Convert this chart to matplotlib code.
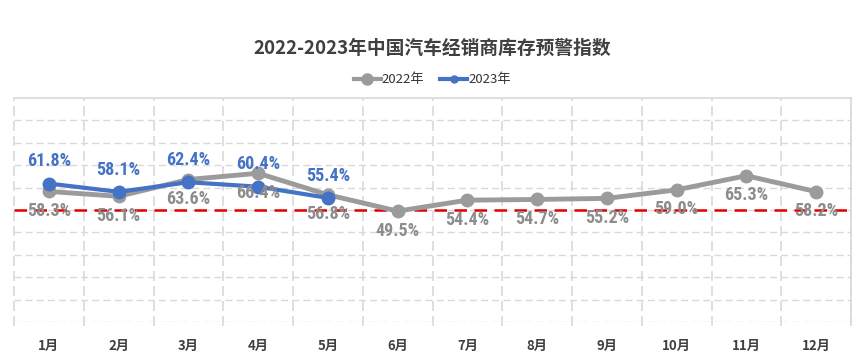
import matplotlib
matplotlib.use("Agg")
import matplotlib.pyplot as plt
from matplotlib.lines import Line2D

plt.rcParams['font.family'] = ['Noto Sans CJK SC', 'DejaVu Sans']

months = ["1月", "2月", "3月", "4月", "5月", "6月", "7月", "8月", "9月", "10月", "11月", "12月"]
values_2022 = [58.3, 56.1, 63.6, 66.4, 56.8, 49.5, 54.4, 54.7, 55.2, 59.0, 65.3, 58.2]
values_2023 = [61.8, 58.1, 62.4, 60.4, 55.4]
warning_line = 50
title = "2022-2023年中国汽车经销商库存预警指数"

W, H = 865, 360
fig = plt.figure(figsize=(W / 100, H / 100), dpi=100)
left, right, top, bottom = 14, 851, 98, 322
ax = fig.add_axes([left / W, 1 - bottom / H, (right - left) / W, (bottom - top) / H])

x22 = list(range(1, len(values_2022) + 1))
x23 = list(range(1, len(values_2023) + 1))

ax.set_xlim(0.5, 12.5)
ax.set_ylim(0, 100)

grid_c = "#D9D9D9"
for y in range(10, 100, 10):
    ax.axhline(y, color=grid_c, lw=1, ls=(0, (5, 3)), zorder=1)
for xb in [i + 0.5 for i in range(0, 13)]:
    ax.plot([xb, xb], [-1.8, 100], color=grid_c, lw=1.2, ls=(0, (6, 3)),
            clip_on=False, zorder=1)
ax.axhline(0, color=grid_c, lw=1, ls=(0, (5, 3)), zorder=1)

for s in ax.spines.values():
    s.set_visible(False)
for side in ('top', 'right'):
    ax.spines[side].set_visible(True)
    ax.spines[side].set_color(grid_c)
    ax.spines[side].set_linewidth(1.2)

ax.axhline(warning_line, color="#E00000", lw=1.8, ls=(0, (5, 3)), zorder=2)

gray = "#9B9B9B"
blue = "#4472C4"
ax.plot(x22, values_2022, color=gray, lw=3.5, marker='o', ms=9, zorder=3)
ax.plot(x23, values_2023, color=blue, lw=3, marker='o', ms=9, zorder=4)

lab_kw = dict(family=['Roboto Condensed', 'DejaVu Sans'], fontsize=13, fontweight='bold')

for x, v in zip(x22, values_2022):
    ax.annotate(f"{v:.1f}%", (x, v), xytext=(0, -14), textcoords='offset points',
                ha='center', va='center', color="#8C8C8C", zorder=5, **lab_kw)
for x, v in zip(x23, values_2023):
    ax.annotate(f"{v:.1f}%", (x, v), xytext=(0, 16), textcoords='offset points',
                ha='center', va='center', color=blue, zorder=5, **lab_kw)

ax.set_xticks(x22)
ax.set_xticklabels(months, fontsize=9.5, fontweight='bold', color="#404040")
ax.tick_params(axis='x', length=0, pad=12)
ax.set_yticks([])

fig.text(0.5, 1 - 48 / H, title, ha='center', va='center', fontsize=13.5,
         fontweight='bold', color="#404040")

handles = [Line2D([0], [0], color=gray, lw=3, marker='o', ms=8),
           Line2D([0], [0], color=blue, lw=3, marker='o', ms=5)]
fig.legend(handles, ["2022年", "2023年"], loc='center', bbox_to_anchor=(0.5, 1 - 80 / H),
           ncol=2, frameon=False, fontsize=9.5, handlelength=2.0, handletextpad=0.1,
           columnspacing=1.2, labelcolor="#333333")

fig.savefig("out.png", dpi=100)
